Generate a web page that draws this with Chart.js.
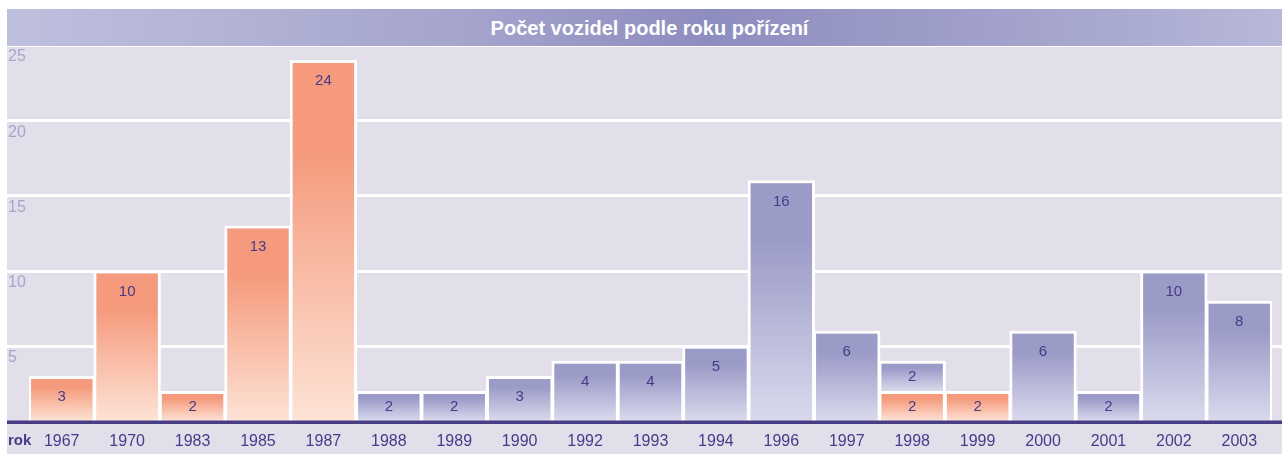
<!DOCTYPE html>
<html>
<head>
<meta charset="utf-8">
<script src="https://cdn.jsdelivr.net/npm/chart.js@4"></script>
<style>
  body { margin: 0; background: #fff; }
  #wrap { position: relative; width: 1282px; height: 454px; }
  canvas { display: block; }
  #title {
    position: absolute; left: 7px; top: 9px; width: 1275px; height: 37px;
    text-align: center; padding-left: 10px; box-sizing: border-box;
    background: linear-gradient(to right, #bfc0de 0%, #a5a5cd 35%, #8e8dbf 55%, #a3a3cc 80%, #b7b8da 100%);
    color: #fff; font: bold 20px "Liberation Sans", Arial, sans-serif;
    line-height: 38px;
  }
</style>
</head>
<body>
<div id="wrap">
  <canvas id="chart" width="1282" height="454"></canvas>
  <div id="title">Počet vozidel podle roku pořízení</div>
</div>
<script>
// categories (rok)
const years = ['1967', '1970', '1983', '1985', '1987', '1988', '1989', '1990', '1992', '1993',
               '1994', '1996', '1997', '1998', '1999', '2000', '2001', '2002', '2003'];
// orange part
const orangeValues = [3, 10, 2, 13, 24, null, null, null, null, null,
                      null, null, null, 2, 2, null, null, null, null];
// blue part
const blueValues = [null, null, null, null, null, 2, 2, 3, 4, 4,
                    5, 16, 6, 2, null, 6, 2, 10, 8];
const yTicks = [5, 10, 15, 20, 25];

const bg = '#e2dfeb';
const textDark = '#463b88';

// vertical gradient for one bar segment, built from the y scale
const barGradient = (ctx, own, below, topColor, bottomColor) => {
    const chart = ctx.chart;
    const y = chart.scales.y;
    if (!y || ctx.dataIndex === undefined) return topColor;
    const v = own[ctx.dataIndex];
    if (v == null) return topColor;
    const start = below ? (below[ctx.dataIndex] || 0) : 0;
    const top = y.getPixelForValue(start + v);
    const base = y.getPixelForValue(start);
    if (!isFinite(top) || !isFinite(base) || top === base) return topColor;
    const g = chart.ctx.createLinearGradient(0, top, 0, base);
    g.addColorStop(0, topColor);
    g.addColorStop(0.25, topColor);
    g.addColorStop(1, bottomColor);
    return g;
};

const decor = {
    id: 'decor',
    beforeDraw(chart) {
        const c = chart.ctx;
        c.save();
        c.fillStyle = '#fff';
        c.fillRect(0, 0, chart.width, chart.height);
        c.fillStyle = bg;
        c.fillRect(7, 9, chart.width - 7, chart.height - 9);
        c.restore();
    },
    beforeDatasetsDraw(chart) {
        const c = chart.ctx;
        const y = chart.scales.y;
        c.save();
        c.strokeStyle = '#fff';
        c.lineWidth = 3;
        yTicks.forEach(t => {
            const py = Math.round(y.getPixelForValue(t)) + 0.5;
            c.beginPath();
            c.moveTo(7, py);
            c.lineTo(chart.width, py);
            c.stroke();
        });
        c.fillStyle = '#aaa3cc';
        c.font = '16px "Liberation Sans", Arial, sans-serif';
        c.textBaseline = 'top';
        c.textAlign = 'left';
        yTicks.forEach(t => {
            c.fillText(String(t), 8, y.getPixelForValue(t) + 4);
        });
        c.fillStyle = textDark;
        c.font = 'bold 15px "Liberation Sans", Arial, sans-serif';
        c.textBaseline = 'middle';
        c.fillText('rok', 8, 441);
        c.restore();
    },
    afterDatasetsDraw(chart) {
        const c = chart.ctx;
        const y = chart.scales.y;
        c.save();
        // axis line
        c.strokeStyle = '#483c85';
        c.lineWidth = 3.5;
        const py = y.getPixelForValue(0) + 1.2;
        c.beginPath();
        c.moveTo(7, py);
        c.lineTo(chart.width, py);
        c.stroke();
        // value labels
        c.fillStyle = textDark;
        c.font = '15px "Liberation Sans", Arial, sans-serif';
        c.textAlign = 'center';
        c.textBaseline = 'middle';
        chart.data.datasets.forEach((ds, di) => {
            const meta = chart.getDatasetMeta(di);
            meta.data.forEach((el, i) => {
                const v = ds.data[i];
                if (v == null) return;
                const top = el.y, base = el.base;
                const ly = Math.min(top + 21, (top + base) / 2 + 1);
                c.fillText(String(v), el.x, ly);
            });
        });
        c.restore();
    }
};

new Chart(document.getElementById('chart'), {
    type: 'bar',
    data: {
        labels: years,
        datasets: [
            {
                label: 'orange',
                data: orangeValues,
                backgroundColor: ctx => barGradient(ctx, orangeValues, null, '#f59a7c', '#fde3d6'),
                borderColor: '#fff',
                borderWidth: 3,
                borderSkipped: 'bottom',
                barPercentage: 1.03,
                categoryPercentage: 1
            },
            {
                label: 'blue',
                data: blueValues,
                backgroundColor: ctx => barGradient(ctx, blueValues, orangeValues, '#9b9bc8', '#dadaed'),
                borderColor: '#fff',
                borderWidth: 3,
                borderSkipped: 'bottom',
                barPercentage: 1.03,
                categoryPercentage: 1
            }
        ]
    },
    options: {
        responsive: false,
        animation: false,
        layout: { padding: { left: 29, right: 10, top: 45, bottom: 0 } },
        plugins: {
            legend: { display: false },
            tooltip: { enabled: false }
        },
        scales: {
            x: {
                stacked: true,
                grid: { display: false, drawTicks: false },
                border: { display: false },
                ticks: {
                    color: textDark,
                    font: { family: '"Liberation Sans", Arial, sans-serif', size: 16 },
                    padding: 11,
                    maxRotation: 0,
                    autoSkip: false
                },
                afterFit: scale => { scale.height = 33; }
            },
            y: {
                stacked: true,
                display: false,
                min: 0,
                max: 25
            }
        }
    },
    plugins: [decor]
});
</script>
</body>
</html>
